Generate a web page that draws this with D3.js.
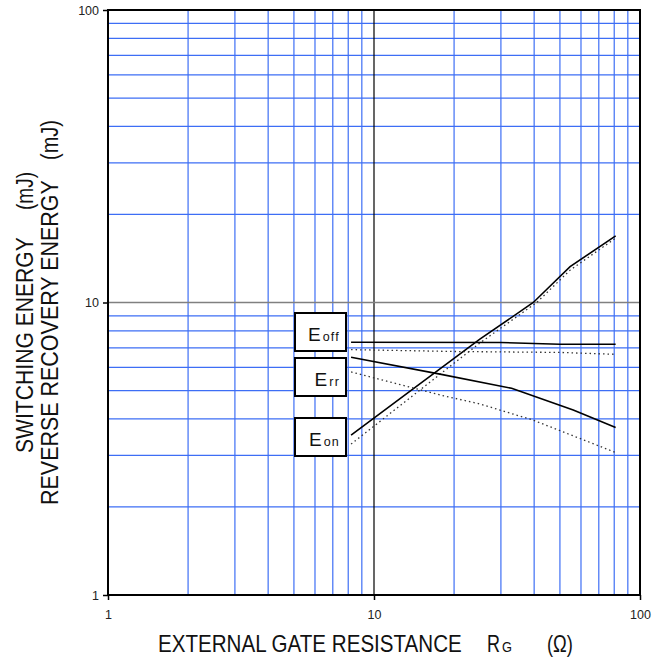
<!DOCTYPE html>
<html><head><meta charset="utf-8">
<script src="https://cdn.jsdelivr.net/npm/d3@7"></script>
<style>body{margin:0;background:#fff}svg{display:block}text{font-family:"Liberation Sans",Arial,sans-serif}</style>
</head><body>
<script>
const xTicks = [1, 10, 100];
const yTicks = [1, 10, 100];
const eonX = [8.2, 25, 39.7, 54.6, 81];
const eonY = [3.52, 7.49, 10, 13.26, 16.9];
const eonDotX = [8.2, 25, 40.9, 54.6, 81];
const eonDotY = [3.28, 7.27, 10, 12.9, 16.6];
const eoffX = [8.2, 30, 50, 81];
const eoffY = [7.31, 7.3, 7.2, 7.2];
const eoffDotX = [8.2, 20, 50, 81];
const eoffDotY = [6.9, 6.8, 6.75, 6.65];
const errX = [8.2, 17.7, 32.9, 56.1, 81];
const errY = [6.5, 5.69, 5.09, 4.29, 3.74];
const errDotX = [8.2, 17.7, 25, 39.7, 81];
const errDotY = [5.79, 4.83, 4.5, 3.96, 3.07];
const labels = [["E","off"],["E","rr"],["E","on"]];

const W = 670, H = 659;
const m = {l:108, r:30, t:10, b:64};
const svg = d3.select("body").append("svg").attr("width", W).attr("height", H);
const x = d3.scaleLog().domain([1,100]).range([m.l, W - m.r]);
const y = d3.scaleLog().domain([1,100]).range([H - m.b, m.t]);

const minor = [];
[1,10].forEach(d => { for (let k=2;k<=9;k++) minor.push(d*k); });

const g = svg.append("g");
g.selectAll(".vx").data(minor).join("line")
  .attr("x1", d=>x(d)).attr("x2", d=>x(d)).attr("y1", y(1)).attr("y2", y(100))
  .attr("stroke", "#3d6ef5").attr("stroke-width", 1.2);
g.selectAll(".hy").data(minor).join("line")
  .attr("y1", d=>y(d)).attr("y2", d=>y(d)).attr("x1", x(1)).attr("x2", x(100))
  .attr("stroke", "#3d6ef5").attr("stroke-width", 1.2);
g.append("line").attr("x1", x(10)).attr("x2", x(10)).attr("y1", y(1)).attr("y2", y(100))
  .attr("stroke", "#000").attr("stroke-width", 1.2);
g.append("line").attr("y1", y(10)).attr("y2", y(10)).attr("x1", x(1)).attr("x2", x(100))
  .attr("stroke", "#808080").attr("stroke-width", 1.5);

// frame
svg.append("rect").attr("x", x(1)).attr("y", y(100)).attr("width", x(100)-x(1)).attr("height", y(1)-y(100))
  .attr("fill", "none").attr("stroke", "#000").attr("stroke-width", 2);

// axes ticks
const xa = d3.axisBottom(x).tickValues(xTicks).tickFormat(d3.format("d")).tickSize(5).tickPadding(10);
const ya = d3.axisLeft(y).tickValues(yTicks).tickFormat(d3.format("d")).tickSize(5).tickPadding(4);
const gx = svg.append("g").attr("transform", `translate(0,${y(1)})`).call(xa);
const gy = svg.append("g").attr("transform", `translate(${x(1)},0)`).call(ya);
[gx, gy].forEach(a => {
  a.select(".domain").remove();
  a.selectAll("line").attr("stroke", "#000").attr("stroke-width", 1.5);
  a.selectAll("text").attr("font-size", 12.5).attr("fill", "#222").style("font-family", "Liberation Sans, Arial, sans-serif");
});

const line = d3.line().x(d=>x(d[0])).y(d=>y(d[1]));
const zip = (a,b) => a.map((v,i)=>[v,b[i]]);
const series = [
  [eonX, eonY, false], [eonDotX, eonDotY, true],
  [eoffX, eoffY, false], [eoffDotX, eoffDotY, true],
  [errX, errY, false], [errDotX, errDotY, true]
];
series.forEach(([xs, ys, dot]) => {
  svg.append("path").attr("d", line(zip(xs, ys))).attr("fill", "none")
    .attr("stroke", dot ? "#333" : "#000")
    .attr("stroke-width", dot ? 1.3 : 1.6)
    .attr("stroke-dasharray", dot ? "1.5,3" : null);
});

// label boxes
const boxTop = [313, 358, 418];
labels.forEach((l, i) => {
  svg.append("rect").attr("x", 295).attr("y", boxTop[i]).attr("width", 51).attr("height", 38)
    .attr("fill", "#fff").attr("stroke", "#000").attr("stroke-width", 2);
  const t = svg.append("text").attr("x", 340).attr("y", boxTop[i] + 28).attr("text-anchor", "end").attr("fill", "#111");
  t.append("tspan").attr("font-size", 19).text(l[0]);
  t.append("tspan").attr("font-size", 12.5).attr("dx", 2).attr("letter-spacing", 1.2).text(l[1]);
});

// axis titles (horizontally condensed via scale transform)
const fs = 23.5;
const txt = (xp, yp, s, len, size, rot) => {
  const t = svg.append("text").attr("font-size", size).attr("fill", "#111").text(s);
  const nat = t.node().getComputedTextLength();
  const sx = len / nat;
  t.attr("transform", `translate(${xp},${yp})` + (rot ? " rotate(-90)" : "") + ` scale(${sx},1)`);
  return t;
};
txt(158, 652, "EXTERNAL GATE RESISTANCE", 304, fs, false);
txt(487, 652, "R", 13, fs, false);
txt(502, 652, "G", 10, 14, false);
txt(547, 652, "(\u03a9)", 26, fs, false);

txt(33, 453, "SWITCHING ENERGY", 216, fs, true);
txt(33, 210, "(mJ)", 38, fs, true);
txt(58, 505, "REVERSE RECOVERY ENERGY", 325, fs, true);
txt(58, 160, "(mJ)", 40, fs, true);
</script>
</body></html>
